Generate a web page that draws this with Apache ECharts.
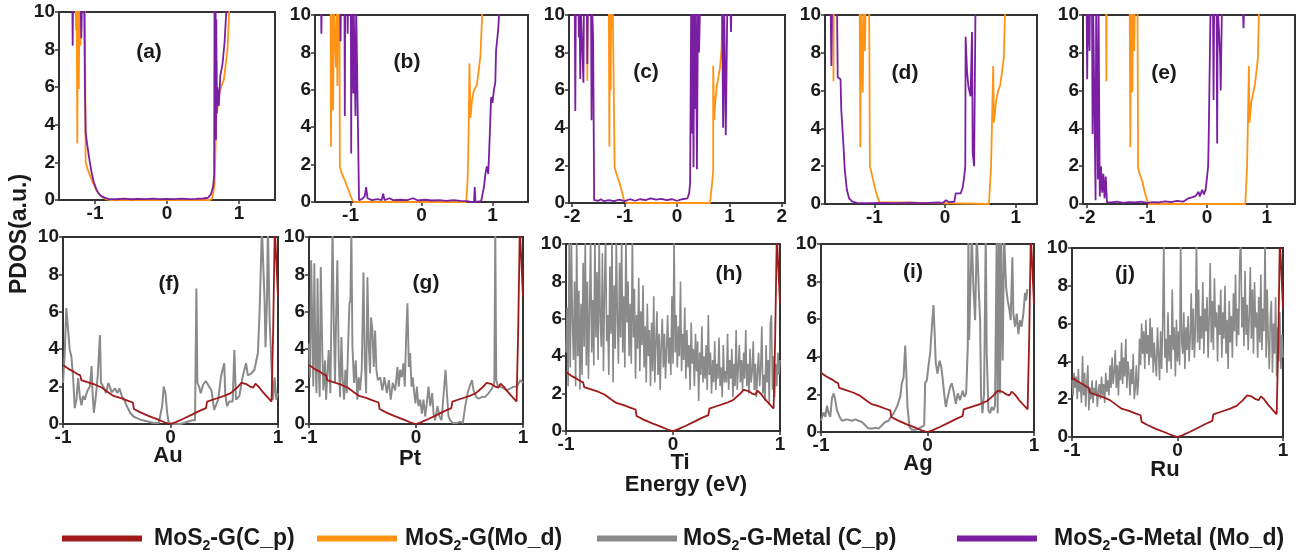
<!DOCTYPE html>
<html><head><meta charset="utf-8">
<script src="https://cdn.jsdelivr.net/npm/echarts@6/dist/echarts.min.js"></script>
<style>html,body{margin:0;padding:0;background:#fff}#c{width:1307px;height:556px}</style>
</head><body><div id="c"></div>
<script>
// ---------------- DATA ----------------
const seriesNames = ['MoS2-G(C_p)', 'MoS2-G(Mo_d)', 'MoS2-G-Metal (C_p)', 'MoS2-G-Metal (Mo_d)'];
const panelLetters = ['(a)','(b)','(c)','(d)','(e)','(f)','(g)','(h)','(i)','(j)'];
const metals = ['Au','Pt','Ti','Ag','Ru'];
const yTickValues = [0,2,4,6,8,10];
const xTicksTop = [[-1,0,1],[-1,0,1],[-2,-1,0,1,2],[-1,0,1],[-2,-1,0,1]];
const xTicksBottom = [-1,0,1];

// MoS2-G C_p (same in all bottom panels)
const redCp = [[-1,3.15],[-0.95,2.95],[-0.9,2.8],[-0.86,2.65],[-0.84,2.6],[-0.83,2.35],[-0.78,2.25],[-0.7,2.1],[-0.64,1.95],[-0.58,1.7],[-0.53,1.5],[-0.46,1.38],[-0.4,1.25],[-0.35,1.15],[-0.34,0.8],[-0.28,0.62],[-0.2,0.42],[-0.12,0.25],[-0.05,0.08],[0,0],[0.05,0.1],[0.12,0.28],[0.2,0.5],[0.27,0.7],[0.33,0.85],[0.34,1.2],[0.42,1.35],[0.5,1.5],[0.56,1.65],[0.62,1.95],[0.66,2.2],[0.7,2.15],[0.74,2.0],[0.77,1.95],[0.79,2.15],[0.82,2.0],[0.86,1.7],[0.9,1.45],[0.94,1.2],[0.955,5],[0.97,10.5],[0.985,10.5],[1.0,6.8]];

// MoS2-G Mo_d, per top panel
const orangeA = [[-1.5,10.5],[-1.27,10.5],[-1.262,9],[-1.255,10.5],[-1.245,3.0],[-1.238,10.5],[-1.225,5.9],[-1.215,10.5],[-1.2,8.2],[-1.19,10.5],[-1.14,10.5],[-1.13,2.0],[-1.1,1.6],[-1.06,1.2],[-1.02,0.85],[-0.99,0.6],[-0.95,0.35],[-0.9,0.15],[-0.85,0.05],[-0.8,0],[0.6,0],[0.63,0.1],[0.66,0.8],[0.685,4.4],[0.69,7.4],[0.695,4.6],[0.72,5.6],[0.75,6.0],[0.79,6.4],[0.84,8.0],[0.87,10.5],[1.5,10.5]];
const orangeB = [[-1.5,10.5],[-1.28,10.5],[-1.275,2.95],[-1.265,10.5],[-1.245,4.9],[-1.235,10.5],[-1.205,7.2],[-1.195,10.5],[-1.185,6.2],[-1.175,10.5],[-1.165,9.2],[-1.155,10.5],[-1.15,1.87],[-1.12,1.5],[-1.08,1.16],[-1.04,0.75],[-1.01,0.45],[-0.98,0.15],[-0.95,0],[0.63,0],[0.65,1.2],[0.665,4.0],[0.675,7.4],[0.69,4.5],[0.71,5.4],[0.74,6.0],[0.78,6.25],[0.83,7.8],[0.86,10.5],[1.5,10.5]];
const orangeC = [[-2.1,10.5],[-1.715,10.5],[-1.71,6.5],[-1.705,10.5],[-1.3,10.5],[-1.29,3.0],[-1.28,10.5],[-1.265,6.0],[-1.255,10.5],[-1.235,9.4],[-1.225,10.5],[-1.2,10.5],[-1.19,1.9],[-1.15,1.5],[-1.1,1.1],[-1.05,0.6],[-1.01,0.15],[-0.96,0],[0.63,0],[0.66,0.8],[0.69,1.7],[0.69,7.3],[0.71,4.4],[0.73,5.4],[0.76,6.2],[0.82,7.2],[0.85,8.2],[0.87,10.5],[2.1,10.5]];
const orangeD = [[-1.75,10.5],[-1.585,10.5],[-1.58,6.5],[-1.575,10.5],[-1.21,10.5],[-1.2,3.0],[-1.19,10.5],[-1.165,5.9],[-1.155,10.5],[-1.135,8.1],[-1.125,10.5],[-1.075,10.5],[-1.065,2.0],[-1.03,1.45],[-0.99,0.8],[-0.96,0.4],[-0.93,0.1],[-0.91,0],[0.62,0],[0.65,2.0],[0.66,3.7],[0.68,7.3],[0.69,4.3],[0.72,5.4],[0.75,6.0],[0.78,6.3],[0.83,7.7],[0.85,10.5],[1.35,10.5]];
const orangeE = [[-2.1,10.5],[-1.685,10.5],[-1.68,6.5],[-1.675,10.5],[-1.29,10.5],[-1.28,3.0],[-1.27,10.5],[-1.245,5.9],[-1.235,10.5],[-1.215,8.1],[-1.205,10.5],[-1.16,10.5],[-1.15,1.9],[-1.12,1.55],[-1.08,1.2],[-1.04,0.65],[-1.0,0.2],[-0.97,0],[0.64,0],[0.67,2.0],[0.68,3.7],[0.7,7.3],[0.71,4.3],[0.74,5.4],[0.78,6.0],[0.8,6.3],[0.85,7.7],[0.87,10.5],[1.5,10.5]];

// MoS2-G-Metal Mo_d, per top panel
const purpleA = [[-1.5,10.5],[-1.315,10.5],[-1.31,8.2],[-1.305,10.5],[-1.2,10.5],[-1.19,8.6],[-1.18,10.5],[-1.15,10.5],[-1.14,6],[-1.13,3.6],[-1.11,3.0],[-1.08,2.2],[-1.05,1.5],[-1.02,1.0],[-0.98,0.55],[-0.94,0.3],[-0.9,0.18],[-0.85,0.1],[-0.8,0.05],[-0.7,0.04],[-0.6,0.07],[-0.5,0.04],[-0.4,0.06],[-0.3,0.05],[-0.2,0.07],[-0.1,0.05],[0,0.06],[0.1,0.05],[0.2,0.07],[0.3,0.05],[0.4,0.06],[0.5,0.08],[0.57,0.12],[0.61,0.3],[0.64,0.7],[0.655,1.3],[0.66,10.5],[0.665,9.6],[0.67,4.0],[0.675,10.5],[0.68,3.2],[0.685,9.6],[0.69,4.6],[0.7,6.0],[0.72,5.0],[0.74,6.6],[0.77,7.2],[0.8,8.4],[0.83,10.5],[1.5,10.5]];
const purpleB = [[-1.5,10.5],[-1.415,10.5],[-1.41,9.0],[-1.405,10.5],[-1.145,10.5],[-1.14,8.6],[-1.135,10.5],[-1.085,10.5],[-1.08,4.6],[-1.075,10.5],[-1.045,10.5],[-1.04,9.0],[-1.035,10.5],[-0.995,10.5],[-0.99,2.6],[-0.985,10.5],[-0.965,10.5],[-0.96,5.8],[-0.955,10.5],[-0.935,10.5],[-0.93,4.6],[-0.92,10.5],[-0.905,10.5],[-0.88,0.1],[-0.84,0.15],[-0.8,0.3],[-0.78,0.8],[-0.76,0.2],[-0.7,0.1],[-0.62,0.15],[-0.56,0.1],[-0.54,0.45],[-0.52,0.1],[-0.45,0.2],[-0.4,0.1],[-0.3,0.12],[-0.2,0.1],[-0.12,0.2],[-0.05,0.08],[0.05,0.12],[0.15,0.08],[0.25,0.1],[0.35,0.06],[0.45,0.1],[0.55,0.06],[0.64,0.05],[0.7,0],[0.74,0],[0.75,0.8],[0.76,0],[0.84,0.05],[0.88,0.8],[0.9,1.5],[0.92,1.9],[0.94,1.5],[0.96,3.4],[0.97,4.5],[0.98,5.6],[1.0,5.3],[1.02,6.0],[1.04,6.4],[1.05,8.1],[1.08,9.2],[1.1,10.5],[1.5,10.5]];
const purpleC = [[-2.1,10.5],[-1.95,10.5],[-1.94,4.9],[-1.93,10.5],[-1.88,10.5],[-1.87,8.8],[-1.86,10.5],[-1.845,6.6],[-1.835,10.5],[-1.8,10.5],[-1.785,6.4],[-1.775,10.5],[-1.72,10.5],[-1.71,7.4],[-1.7,10.5],[-1.64,10.5],[-1.63,4.4],[-1.62,10.5],[-1.6,8.8],[-1.58,0.15],[-1.5,0.12],[-1.45,0.2],[-1.4,0.1],[-1.3,0.15],[-1.2,0.1],[-1.1,0.18],[-1.0,0.1],[-0.9,0.2],[-0.8,0.12],[-0.7,0.2],[-0.6,0.15],[-0.5,0.25],[-0.4,0.18],[-0.3,0.22],[-0.2,0.15],[-0.1,0.2],[0,0.12],[0.1,0.2],[0.2,0.25],[0.23,0.5],[0.25,1.0],[0.27,10.5],[0.285,3.7],[0.3,10.5],[0.315,1.9],[0.33,10.5],[0.345,5.0],[0.36,10.5],[0.38,1.8],[0.4,10.5],[0.42,8.0],[0.44,10.5],[0.86,10.5],[0.88,4.0],[0.9,10.5],[0.93,3.6],[0.96,10.5],[1.02,10.5],[1.03,9.1],[1.04,10.5],[2.1,10.5]];
const purpleD = [[-1.75,10.5],[-1.62,10.5],[-1.61,7.3],[-1.6,10.5],[-1.53,10.5],[-1.52,6.7],[-1.48,6.6],[-1.47,5.0],[-1.44,3.2],[-1.42,1.8],[-1.39,0.74],[-1.36,0.3],[-1.31,0.12],[-1.25,0.06],[-1.1,0.05],[-0.9,0.06],[-0.7,0.05],[-0.5,0.07],[-0.3,0.05],[-0.1,0.08],[-0.03,0.06],[0.01,0.2],[0.05,0.1],[0.13,0.12],[0.15,0.56],[0.22,0.56],[0.25,0.9],[0.27,1.45],[0.285,2.0],[0.29,8.85],[0.31,7.0],[0.33,6.2],[0.36,5.7],[0.38,9.1],[0.385,6.5],[0.39,2.7],[0.41,2.0],[0.43,10.5],[1.35,10.5]];
const purpleE = [[-2.1,10.5],[-2.01,10.5],[-2.0,6.6],[-1.99,10.5],[-1.965,10.5],[-1.96,8.1],[-1.955,10.5],[-1.92,10.5],[-1.91,3.7],[-1.9,10.5],[-1.87,10.5],[-1.86,0.2],[-1.85,10.5],[-1.83,10.5],[-1.82,1.3],[-1.81,10.5],[-1.8,10.5],[-1.79,0.4],[-1.77,2.0],[-1.75,0.6],[-1.73,1.6],[-1.71,0.3],[-1.69,1.45],[-1.67,0.1],[-1.6,0.08],[-1.5,0.12],[-1.4,0.06],[-1.3,0.1],[-1.2,0.08],[-1.1,0.12],[-1.0,0.06],[-0.9,0.1],[-0.8,0.08],[-0.7,0.14],[-0.6,0.1],[-0.5,0.16],[-0.4,0.12],[-0.36,0.2],[-0.31,0.3],[-0.25,0.35],[-0.19,0.42],[-0.14,0.65],[-0.12,0.4],[-0.08,0.75],[-0.05,0.5],[-0.02,0.8],[0,0.9],[0.02,2.0],[0.03,3.7],[0.06,10.5],[0.1,10.5],[0.11,5.5],[0.12,10.5],[0.16,10.5],[0.17,3.2],[0.18,10.5],[0.21,10.5],[0.22,7.8],[0.23,6.0],[0.25,10.5],[0.6,10.5],[0.61,9.3],[0.62,10.5],[1.5,10.5]];

// MoS2-G-Metal C_p, per bottom panel
const grayAu = [[-1.0,2.2],[-0.984,3.8],[-0.969,6.2],[-0.953,6.1],[-0.938,4.0],[-0.922,3.6],[-0.906,2.5],[-0.891,0.85],[-0.875,1.3],[-0.859,2.45],[-0.844,1.5],[-0.828,1.0],[-0.813,1.5],[-0.797,1.3],[-0.775,1.75],[-0.75,2.0],[-0.734,3.1],[-0.725,1.65],[-0.713,0.6],[-0.694,1.5],[-0.678,2.5],[-0.656,4.75],[-0.647,2.2],[-0.625,2.0],[-0.6,1.65],[-0.578,2.2],[-0.547,1.7],[-0.516,1.9],[-0.494,1.65],[-0.475,1.9],[-0.453,1.5],[-0.431,1.3],[-0.406,0.95],[-0.375,0.6],[-0.344,0.4],[-0.281,0.23],[-0.219,0.15],[-0.156,0.05],[-0.109,0.05],[-0.078,0.95],[-0.063,2.0],[-0.047,1.65],[-0.031,0.6],[-0.016,0.05],[0.031,0],[0.094,0],[0.172,0.15],[0.203,0.2],[0.228,0.2],[0.241,7.25],[0.25,2.2],[0.266,2.0],[0.281,1.65],[0.303,2.1],[0.328,2.3],[0.359,2.0],[0.381,1.8],[0.406,0.75],[0.422,0.7],[0.444,1.3],[0.469,2.5],[0.484,2.9],[0.5,3.25],[0.509,1.65],[0.525,0.95],[0.547,1.2],[0.578,1.2],[0.594,3.95],[0.609,1.3],[0.641,1.5],[0.672,2.55],[0.703,3.25],[0.719,2.6],[0.75,2.7],[0.781,2.9],[0.813,3.8],[0.828,5.9],[0.844,9.1],[0.85,10.5],[0.859,9.1],[0.875,6.6],[0.884,4.1],[0.897,6.6],[0.906,10.5],[0.922,5.6],[0.938,3.4],[0.953,1.3],[0.969,2.5],[0.984,1.3],[1.0,1.65]];
const grayPt = [[-1.0,4.3],[-0.99,2.5],[-0.98,8.75],[-0.97,5.55],[-0.96,2.0],[-0.95,8.6],[-0.94,3.4],[-0.93,1.65],[-0.92,7.8],[-0.91,2.9],[-0.9,1.45],[-0.89,8.4],[-0.875,3.8],[-0.866,1.8],[-0.85,3.4],[-0.84,1.3],[-0.83,2.5],[-0.816,3.95],[-0.8,1.65],[-0.79,6.1],[-0.78,10.5],[-0.766,4.65],[-0.757,2.2],[-0.747,5.55],[-0.735,8.75],[-0.722,3.4],[-0.71,1.45],[-0.697,4.65],[-0.685,2.35],[-0.672,1.3],[-0.66,2.9],[-0.647,1.65],[-0.635,4.1],[-0.622,6.45],[-0.613,6.6],[-0.604,10.5],[-0.594,4.1],[-0.579,2.2],[-0.563,3.4],[-0.548,1.3],[-0.535,2.5],[-0.523,1.8],[-0.507,2.9],[-0.491,8.1],[-0.479,3.4],[-0.466,1.65],[-0.454,7.85],[-0.441,4.1],[-0.429,2.7],[-0.42,5.7],[-0.407,5.0],[-0.395,3.05],[-0.382,5.0],[-0.37,2.9],[-0.357,2.35],[-0.335,2.5],[-0.314,1.8],[-0.295,2.5],[-0.273,1.65],[-0.254,2.35],[-0.236,1.3],[-0.217,2.2],[-0.195,1.8],[-0.173,3.05],[-0.161,2.0],[-0.148,2.9],[-0.133,2.5],[-0.117,3.25],[-0.105,2.0],[-0.092,4.65],[-0.08,6.45],[-0.067,3.05],[-0.055,3.8],[-0.042,2.0],[-0.03,2.5],[-0.017,1.65],[-0.005,1.1],[0.008,2.0],[0.023,0.95],[0.039,1.3],[0.055,0.55],[0.07,1.3],[0.086,0.4],[0.101,1.1],[0.117,2.0],[0.133,0.95],[0.151,1.65],[0.164,0.55],[0.179,0.2],[0.201,0.95],[0.22,0.4],[0.239,0.2],[0.257,0.2],[0.276,2.9],[0.289,1.65],[0.304,0.4],[0.32,0.2],[0.345,0.05],[0.382,0.05],[0.413,0.12],[0.438,0.05],[0.46,0.95],[0.482,1.65],[0.507,2.1],[0.523,2.35],[0.538,1.8],[0.563,1.45],[0.585,1.35],[0.616,1.45],[0.647,1.45],[0.679,1.65],[0.71,1.9],[0.732,2.2],[0.741,10.5],[0.75,2.35],[0.766,2.0],[0.788,2.0],[0.819,1.9],[0.85,1.8],[0.881,1.9],[0.913,2.0],[0.944,2.0],[0.975,2.35],[1.0,2.2]];
const grayTi = [[-1,4.2],[-0.99,6.6],[-0.98,2.4],[-0.97,10.5],[-0.96,3.4],[-0.95,10.5],[-0.94,5.9],[-0.93,3.8],[-0.92,8],[-0.91,2.4],
[-0.9,10.5],[-0.89,4],[-0.88,7.5],[-0.87,2.2],[-0.86,6.8],[-0.85,3],[-0.84,9],[-0.83,4.5],[-0.82,10.5],[-0.81,3.5],
[-0.8,8],[-0.79,2.8],[-0.78,6.5],[-0.77,10.5],[-0.76,4.2],[-0.75,7],[-0.74,3.5],[-0.73,10.5],[-0.72,5],[-0.71,8.5],
[-0.7,3.8],[-0.69,10.5],[-0.68,6],[-0.67,4.5],[-0.66,9.5],[-0.65,3.2],[-0.64,7.5],[-0.63,10.5],[-0.62,4.8],[-0.61,6.2],
[-0.6,3],[-0.59,8.8],[-0.58,5.2],[-0.57,10.5],[-0.56,2.6],[-0.55,7.8],[-0.54,4.4],[-0.53,10.5],[-0.52,6],[-0.51,3.6],
[-0.5,9],[-0.49,5],[-0.48,10.5],[-0.47,4.2],[-0.46,7.2],[-0.45,3.4],[-0.44,10.5],[-0.43,5.8],[-0.42,8],[-0.41,4],
[-0.4,6.8],[-0.39,3.6],[-0.38,10.5],[-0.37,5],[-0.36,7.6],[-0.35,2.8],[-0.34,6.2],[-0.33,4.4],[-0.32,8.2],[-0.31,3.2],
[-0.3,6.4],[-0.29,4.6],[-0.28,7.8],[-0.27,3.4],[-0.26,5.6],[-0.25,2.6],[-0.24,6.8],[-0.23,4],[-0.22,5.4],[-0.21,2.4],
[-0.2,5.8],[-0.19,3.2],[-0.18,7.2],[-0.17,2.6],[-0.16,4.8],[-0.15,6.4],[-0.14,3],[-0.13,5.2],[-0.12,2.2],[-0.11,4.6],
[-0.1,6],[-0.09,3.4],[-0.08,5.2],[-0.07,2.8],[-0.06,4.4],[-0.05,6.2],[-0.04,3.6],[-0.03,5],[-0.02,3],[-0.01,7.2],
[0,3.6],[0.01,10.5],[0.02,4.2],[0.03,6.2],[0.04,3.4],[0.05,5.6],[0.06,4],[0.07,8],[0.08,3.2],[0.09,5.2],
[0.1,3.8],[0.11,6.6],[0.12,2.8],[0.13,5.4],[0.14,3.4],[0.15,4.6],[0.16,2.2],[0.17,5.8],[0.18,3.6],[0.19,4.4],
[0.2,2.4],[0.21,5.2],[0.22,3.2],[0.23,4.8],[0.24,1.6],[0.25,4.2],[0.26,3],[0.27,5.6],[0.28,2.6],[0.29,4],
[0.3,2.8],[0.31,4.6],[0.32,2.2],[0.33,6.2],[0.34,3],[0.35,4.2],[0.36,2],[0.37,3.8],[0.38,2.6],[0.39,4.8],
[0.4,2.2],[0.41,3.6],[0.42,2.8],[0.43,5],[0.44,2.4],[0.45,3.4],[0.46,1.8],[0.47,4.6],[0.48,2.6],[0.49,3.2],
[0.5,2.6],[0.51,5.2],[0.52,2.2],[0.53,3.8],[0.54,2.8],[0.55,4.4],[0.56,1.8],[0.57,3.6],[0.58,2.4],[0.59,5.4],
[0.6,2.2],[0.61,3.4],[0.62,4.6],[0.63,2.6],[0.64,3.8],[0.65,2.2],[0.66,4.2],[0.67,2.8],[0.68,5.4],[0.69,2.4],
[0.7,3.6],[0.71,2],[0.72,4.4],[0.73,2.6],[0.74,3.2],[0.75,4.8],[0.76,2.2],[0.77,3.6],[0.78,1.8],[0.79,3.2],
[0.8,4.2],[0.81,2.4],[0.82,3.4],[0.83,5.6],[0.84,2],[0.85,3],[0.86,1.6],[0.87,4.6],[0.88,2.6],[0.89,3.8],
[0.9,1.4],[0.91,5.8],[0.92,6.2],[0.93,2.2],[0.94,4],[0.95,1.8],[0.96,3.6],[0.97,2.4],[0.98,4.2],[0.99,3],[1,3.8]];
const grayAg = [[-1.0,0.6],[-0.975,1.05],[-0.959,0.8],[-0.944,1.4],[-0.928,1.0],[-0.913,0.8],[-0.897,1.8],[-0.881,2.05],[-0.866,1.7],[-0.85,1.15],[-0.825,0.8],[-0.803,0.6],[-0.756,0.67],[-0.709,0.6],[-0.678,0.67],[-0.647,0.6],[-0.616,0.53],[-0.584,0.36],[-0.553,0.18],[-0.522,0.18],[-0.491,0.23],[-0.459,0.18],[-0.428,0.36],[-0.397,0.53],[-0.366,0.6],[-0.344,0.8],[-0.319,0.98],[-0.288,1.33],[-0.256,1.87],[-0.241,2.6],[-0.225,2.9],[-0.209,4.6],[-0.2,3.3],[-0.188,1.33],[-0.169,0.27],[-0.147,0.12],[-0.116,0.12],[-0.084,0.18],[-0.053,0.27],[-0.031,0.36],[-0.022,2.6],[-0.006,2.75],[0.009,3.5],[0.025,4.2],[0.041,5.6],[0.056,6.75],[0.066,5.4],[0.078,3.65],[0.094,3.1],[0.113,3.8],[0.128,3.5],[0.141,2.9],[0.156,2.05],[0.172,1.33],[0.191,1.87],[0.213,2.4],[0.228,2.6],[0.244,2.2],[0.266,1.5],[0.284,2.05],[0.306,1.7],[0.331,2.2],[0.347,1.87],[0.363,2.05],[0.378,4.5],[0.384,10.5],[0.391,4.9],[0.4,7.0],[0.416,10.5],[0.431,7.7],[0.447,5.95],[0.463,10.5],[0.484,7.2],[0.494,5.95],[0.503,1.87],[0.516,1.0],[0.531,2.05],[0.547,10.5],[0.556,4.2],[0.572,1.15],[0.588,1.0],[0.603,1.33],[0.619,1.15],[0.634,1.4],[0.65,10.5],[0.659,1.0],[0.672,10.5],[0.681,2.05],[0.691,10.5],[0.706,3.8],[0.719,10.5],[0.738,7.7],[0.753,7.0],[0.769,6.5],[0.781,5.95],[0.797,9.3],[0.806,6.3],[0.822,5.6],[0.838,6.3],[0.853,5.2],[0.869,5.95],[0.884,5.6],[0.9,6.3],[0.916,7.4],[0.925,7.0],[0.938,7.6]];
const grayRu = [[-1,3.0],[-0.99,2.2],[-0.98,3.4],[-0.97,2.6],[-0.96,3.2],[-0.95,2],[-0.94,3.6],[-0.93,2.4],[-0.92,2.8],[-0.91,1.8],
[-0.9,4.3],[-0.89,2.2],[-0.88,3.4],[-0.87,1.6],[-0.86,2.8],[-0.85,3.8],[-0.84,1.4],[-0.83,2.6],[-0.82,2],[-0.81,3],
[-0.8,1.8],[-0.79,2.6],[-0.78,2.2],[-0.77,3],[-0.76,1.6],[-0.75,2.4],[-0.74,2.8],[-0.73,2],[-0.72,3.2],[-0.71,2.2],
[-0.7,2.8],[-0.69,1.8],[-0.68,3.4],[-0.67,2.4],[-0.66,3],[-0.65,2.2],[-0.64,3.8],[-0.63,2.6],[-0.62,4.2],[-0.61,2.8],
[-0.6,3.4],[-0.59,4.6],[-0.58,2.6],[-0.57,3.8],[-0.56,2.2],[-0.55,4],[-0.54,3],[-0.53,5],[-0.52,2.8],[-0.51,4.2],
[-0.5,3.2],[-0.49,5.2],[-0.48,2.6],[-0.47,4],[-0.46,3.4],[-0.45,2.2],[-0.44,3.6],[-0.43,2.8],[-0.42,4.4],[-0.41,2],
[-0.4,2.6],[-0.39,3.8],[-0.38,2.2],[-0.37,3],[-0.36,5.2],[-0.35,3.8],[-0.34,6],[-0.33,4.4],[-0.32,5.6],[-0.31,3.6],
[-0.3,6.2],[-0.29,4.4],[-0.28,5.4],[-0.27,3.8],[-0.26,6.3],[-0.25,4.2],[-0.24,5.8],[-0.23,3.4],[-0.22,5],[-0.21,4],
[-0.2,3.2],[-0.19,5.8],[-0.18,4.4],[-0.17,3],[-0.16,5.6],[-0.15,3.6],[-0.14,6],[-0.13,10.5],[-0.12,4.2],[-0.11,5.2],
[-0.1,3.4],[-0.09,6.6],[-0.08,4],[-0.07,5.4],[-0.06,3.6],[-0.05,7.8],[-0.04,4.6],[-0.03,5.8],[-0.02,3.2],[-0.01,6.2],
[0,4],[0.01,5.6],[0.02,3.8],[0.03,10.5],[0.04,5],[0.05,4.4],[0.06,6.6],[0.07,3.6],[0.08,5.8],[0.09,4.6],
[0.1,6.4],[0.11,4],[0.12,5.2],[0.13,7.6],[0.14,4.6],[0.15,6.8],[0.16,4.2],[0.17,5.8],[0.18,10.5],[0.19,5],
[0.2,7.8],[0.21,4.6],[0.22,6.4],[0.23,5.2],[0.24,8.2],[0.25,4.4],[0.26,6.8],[0.27,5.6],[0.28,7.4],[0.29,4.2],
[0.3,6.2],[0.31,9.2],[0.32,5],[0.33,7.2],[0.34,4.6],[0.35,8.4],[0.36,5.8],[0.37,6.6],[0.38,4],[0.39,7],
[0.4,5.4],[0.41,7.8],[0.42,4.2],[0.43,6.6],[0.44,5.2],[0.45,8],[0.46,4.4],[0.47,6.2],[0.48,3.6],[0.49,7.2],
[0.5,5],[0.51,6.4],[0.52,4.2],[0.53,7.6],[0.54,5.6],[0.55,8.6],[0.56,4.8],[0.57,6.8],[0.58,5.4],[0.59,9.4],
[0.6,10.5],[0.61,5.8],[0.62,7.4],[0.63,4.8],[0.64,8.8],[0.65,5.4],[0.66,7],[0.67,4.6],[0.68,6.4],[0.69,9],
[0.7,5.2],[0.71,7.8],[0.72,4.4],[0.73,8.2],[0.74,5.8],[0.75,6.6],[0.76,4.2],[0.77,7.4],[0.78,5],[0.79,8.6],
[0.8,4.6],[0.81,6.8],[0.82,5.6],[0.83,10.5],[0.84,4.2],[0.85,7.8],[0.86,5.2],[0.87,3.6],[0.88,6.4],[0.89,7.2],
[0.9,3.4],[0.91,6],[0.92,4.4],[0.93,7.4],[0.94,3.2],[0.95,5.8],[0.96,4],[0.97,6.6],[0.98,3.6],[0.99,5.4],[1,4.2]];

const topOrange = [orangeA, orangeB, orangeC, orangeD, orangeE];
const topPurple = [purpleA, purpleB, purpleC, purpleD, purpleE];
const bottomGray = [grayAu, grayPt, grayTi, grayAg, grayRu];

// ---------------- LAYOUT / STYLE ----------------
const FONT = '"Liberation Sans", Arial, sans-serif';
const INK = '#1a1a1a';
const COLORS = {red:'#a01a1a', orange:'#ff9414', gray:'#8a8a8a', purple:'#7a1fa2'};
const grayWidths = [2, 1.9, 1.6, 2, 1.6];
const grids = [
  {left:59, top:12, width:216, height:188, min:-1.5, max:1.5},
  {left:315, top:15, width:213, height:187, min:-1.5, max:1.5},
  {left:569, top:15, width:216, height:188, min:-2.06, max:2.06},
  {left:825, top:15, width:212, height:189, min:-1.7, max:1.3},
  {left:1083, top:15, width:212, height:189, min:-2.07, max:1.47},
  {left:63, top:237, width:215, height:187, min:-1, max:1},
  {left:309, top:237, width:214, height:187, min:-1, max:1},
  {left:566, top:244, width:214, height:187, min:-1, max:1},
  {left:821, top:244, width:213, height:188, min:-1, max:1},
  {left:1072, top:248, width:211, height:189, min:-1, max:1}
];
const letterPos = [[149,52],[407,62],[646,72],[905,73],[1164,73],[169,284],[426,283],[729,274],[913,272],[1125,274]];
const metalPos = [[168,456],[410,459],[680,463],[918,464],[1165,470]];

const axisLabelStyle = {fontSize:19, fontWeight:'bold', fontFamily:FONT, color:INK};

const option = {
  animation:false,
  backgroundColor:'#fff',
  grid: grids.map(g => ({left:g.left, top:g.top, width:g.width, height:g.height, show:true, borderColor:'#333', borderWidth:2, backgroundColor:'transparent'})),
  xAxis: grids.map((g,i) => {
    const ticks = i < 5 ? xTicksTop[i] : xTicksBottom;
    return {
      type:'value', gridIndex:i, min:g.min, max:g.max,
      splitLine:{show:false},
      axisLine:{show:true, onZero:false, lineStyle:{color:'#333', width:2}},
      axisTick:{show:true, inside:false, length:4, lineStyle:{color:'#333', width:1.5}, customValues:ticks},
      axisLabel:Object.assign({margin:4, customValues:ticks, formatter:v => String(v)}, axisLabelStyle)
    };
  }),
  yAxis: grids.map((g,i) => ({
    type:'value', gridIndex:i, min:0, max:10, interval:2,
    splitLine:{show:false},
    axisLine:{show:true, onZero:false, lineStyle:{color:'#333', width:2}},
    axisTick:{show:true, length:4, lineStyle:{color:'#333', width:1.5}, customValues:yTickValues},
    axisLabel:Object.assign({margin:4, customValues:yTickValues}, axisLabelStyle)
  })),
  series: [],
  legend: [],
  graphic: []
};

const lineSeries = (name, data, idx, color, width) => ({
  type:'line', name, data, xAxisIndex:idx, yAxisIndex:idx,
  showSymbol:false, symbol:'none', clip:true, silent:true,
  lineStyle:{color, width}, itemStyle:{color}
});

for (let i = 0; i < 5; i++) {
  option.series.push(lineSeries(seriesNames[1], topOrange[i], i, COLORS.orange, 1.8));
  option.series.push(lineSeries(seriesNames[3], topPurple[i], i, COLORS.purple, 1.8));
}
for (let i = 0; i < 5; i++) {
  option.series.push(lineSeries(seriesNames[2], bottomGray[i], i + 5, COLORS.gray, grayWidths[i]));
  option.series.push(lineSeries(seriesNames[0], redCp, i + 5, COLORS.red, 1.8));
}

// legends (one component per entry, positioned like the reference)
const legendLeft = [62, 317, 597, 957];
const legendSpacer = [7, 3, 1, 12];
const legendText = ['-G(C_p)', '-G(Mo_d)', '-G-Metal (C_p)', '-G-Metal (Mo_d)'];
seriesNames.forEach((nm, k) => {
  option.legend.push({
    data:[nm], left:legendLeft[k], top:527, itemWidth:80, itemHeight:6, icon:'rect',
    selectedMode:false, padding:0,
    formatter: () => '{g|}{n|MoS}{s|2}{n|' + legendText[k] + '}',
    textStyle:{
      color:INK, fontFamily:FONT, fontWeight:'bold', fontSize:23,
      rich:{
        g:{width:legendSpacer[k]},
        n:{fontSize:23, fontWeight:'bold', fontFamily:FONT, color:INK, lineHeight:30, verticalAlign:'middle'},
        s:{fontSize:14, fontWeight:'bold', fontFamily:FONT, color:INK, lineHeight:30, verticalAlign:'bottom'}
      }
    }
  });
});

panelLetters.forEach((t, i) => {
  option.graphic.push({type:'text', x:letterPos[i][0], y:letterPos[i][1], silent:true,
    style:{text:t, font:'bold 21px ' + FONT, fill:INK, align:'center', verticalAlign:'middle'}});
});
metals.forEach((t, i) => {
  option.graphic.push({type:'text', x:metalPos[i][0], y:metalPos[i][1], silent:true,
    style:{text:t, font:'bold 22px ' + FONT, fill:INK, align:'center', verticalAlign:'middle'}});
});
option.graphic.push({type:'text', x:686, y:485, silent:true,
  style:{text:'Energy (eV)', font:'bold 22px ' + FONT, fill:INK, align:'center', verticalAlign:'middle'}});
option.graphic.push({type:'text', x:20, y:234, rotation:Math.PI/2, silent:true,
  style:{text:'PDOS(a.u.)', font:'bold 23px ' + FONT, fill:INK, align:'center', verticalAlign:'middle'}});

const chart = echarts.init(document.getElementById('c'));
chart.setOption(option);
</script>
</body></html>
